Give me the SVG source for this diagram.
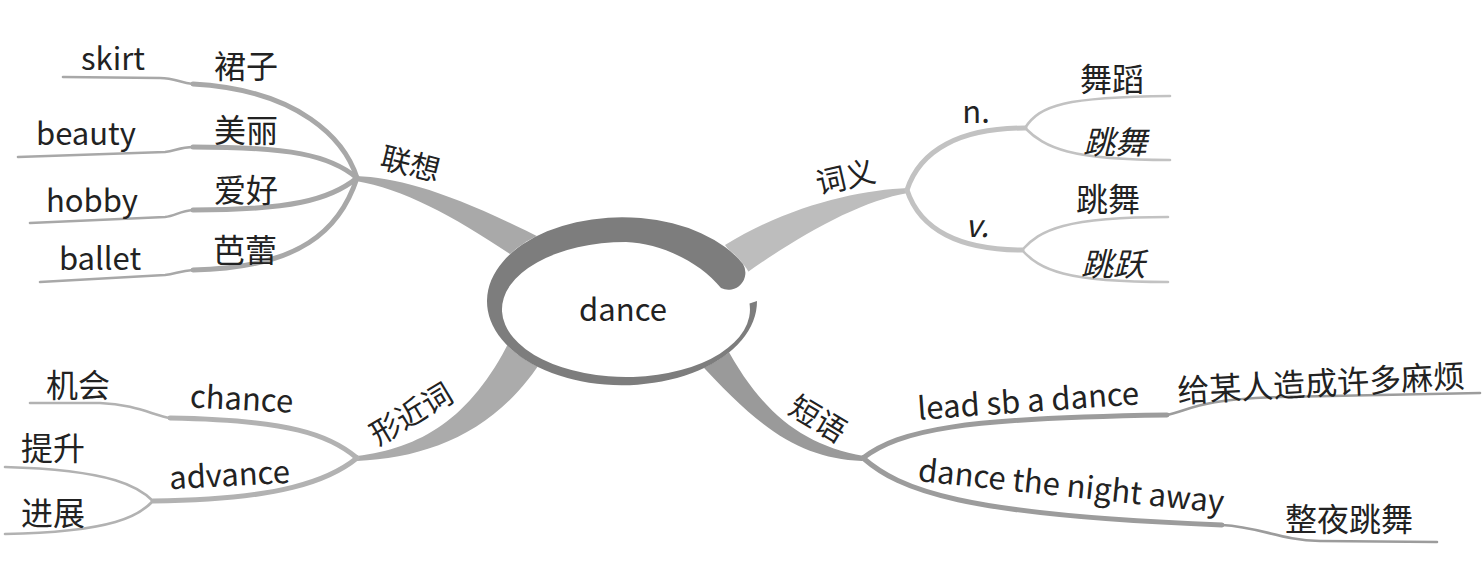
<svg xmlns="http://www.w3.org/2000/svg" width="1484" height="576" viewBox="0 0 1484 576">
<style>
text{font-family:"Noto Sans CJK SC","Noto Sans",sans-serif;fill:#222;}
.lat{font-size:31px;}
.cjk{font-size:32px;}
.mid{font-size:30px;}
.c{text-anchor:middle;dominant-baseline:central;}
.m{text-anchor:middle;}
.sub{fill:none;stroke-linecap:round;stroke-linejoin:round;}
.g1{stroke:#a8a8a8;}
.g2{stroke:#c2c2c2;}
.g3{stroke:#b2b2b2;}
.g4{stroke:#9c9c9c;}
.w5{stroke-width:5;}
.w3{stroke-width:2.6;}
</style>
<rect width="1484" height="576" fill="#fff"/>
<g id="connectors">
  <path d="M356,176 C400,178 450,192 545,240 L540,275 C470,225 410,190 356,181 Z" fill="#a9a9a9"/>
  <path d="M908,188 C860,190 790,205 725,245 L745,274 C800,235 860,201 908,193 Z" fill="#bdbdbd"/>
  <path d="M357,456 C420,448 470,420 510,340 L545,355 C500,430 430,458 357,461 Z" fill="#ababab"/>
  <path d="M725,345 C760,410 800,445 864,456 L862,461 C800,458 760,430 695,358 Z" fill="#9a9a9a"/>
  <path class="sub g1 w5" d="M357,178 C345,140 300,90 193,84"/>
  <path class="sub g1 w3" d="M193,84 C180,83 175,78 160,78 L63,77"/>
  <path class="sub g1 w5" d="M357,178 C330,155 290,147 193,147"/>
  <path class="sub g1 w3" d="M193,147 C180,147 175,151 165,152 L18,157"/>
  <path class="sub g1 w5" d="M357,178 C330,200 290,210 193,210"/>
  <path class="sub g1 w3" d="M193,210 C180,211 175,216 165,217 L30,223"/>
  <path class="sub g1 w5" d="M357,178 C340,230 300,268 193,270"/>
  <path class="sub g1 w3" d="M193,270 C180,271 175,274 165,275 L40,282"/>
  <path class="sub g2 w5" d="M907,190 C920,150 960,128 1025,128"/>
  <path class="sub g2 w3" d="M1025,128 C1040,105 1065,97 1170,96"/>
  <path class="sub g2 w3" d="M1025,128 C1045,148 1070,160 1170,160"/>
  <path class="sub g2 w5" d="M907,190 C920,230 960,250 1022,250"/>
  <path class="sub g2 w3" d="M1022,250 C1040,230 1065,217 1168,217"/>
  <path class="sub g2 w3" d="M1022,250 C1040,270 1065,282 1168,282"/>
  <path class="sub g3 w5" d="M357,458 C330,435 290,420 170,418"/>
  <path class="sub g3 w3" d="M170,418 C155,416 135,404 100,403 L30,403"/>
  <path class="sub g3 w5" d="M357,458 C330,480 280,500 153,501"/>
  <path class="sub g3 w3" d="M153,501 C140,488 115,470 5,467"/>
  <path class="sub g3 w3" d="M153,501 C140,515 115,532 5,534"/>
  <path class="sub g4 w5" d="M863,458 C900,430 960,418 1167,415"/>
  <path class="sub g4 w3" d="M1167,415 C1190,410 1200,399 1280,397 L1480,393"/>
  <path class="sub g4 w5" d="M863,458 C900,490 960,515 1222,525"/>
  <path class="sub g4 w3" d="M1222,525 C1260,527 1280,540 1320,541 L1437,542"/>
</g>
<g id="center">
  <ellipse cx="622" cy="301" rx="135" ry="84" fill="#fff"/>
  <path d="M743,264 A135,84 0 1 0 757,301 L749.5,303.6 A124,67.5 0 1 1 626,242 C660,243 700,262 721,288 A17,17 0 0 0 743,264 Z" fill="#7d7d7d"/>
  <text class="lat m" x="623" y="321">dance</text>
</g>
<g id="lianxiang">
  <text class="mid c" transform="translate(411,162) rotate(14)">联想</text>
  <text class="lat m" x="113" y="70">skirt</text>
  <text class="cjk c" x="246" y="64">裙子</text>
  <text class="lat m" x="86" y="145">beauty</text>
  <text class="cjk c" x="246" y="128">美丽</text>
  <text class="lat m" x="92" y="212">hobby</text>
  <text class="cjk c" x="246" y="188">爱好</text>
  <text class="lat m" x="100" y="270">ballet</text>
  <text class="cjk c" x="245" y="248">芭蕾</text>
</g>
<g id="ciyi">
  <text class="mid c" transform="translate(845,175) rotate(-13)">词义</text>
  <text class="lat m" x="976" y="123">n.</text>
  <text class="cjk c" x="1112" y="77">舞蹈</text>
  <text class="cjk c" x="1115" y="140" font-style="italic">跳舞</text>
  <text class="lat m" x="977" y="237" font-style="italic">v.</text>
  <text class="cjk c" x="1108" y="197">跳舞</text>
  <text class="cjk c" x="1113" y="262" font-style="italic">跳跃</text>
</g>
<g id="xingjinci">
  <text class="mid c" transform="translate(410,412) rotate(-31)">形近词</text>
  <text class="cjk c" x="78" y="383">机会</text>
  <text class="lat m" transform="translate(241,410) rotate(3)">chance</text>
  <text class="cjk c" x="53" y="446">提升</text>
  <text class="lat m" transform="translate(230,486) rotate(-3)">advance</text>
  <text class="cjk c" x="53" y="511">进展</text>
</g>
<g id="duanyu">
  <text class="mid c" transform="translate(819,417) rotate(31)">短语</text>
  <text class="lat m" transform="translate(1029,412) rotate(-4)">lead sb a dance</text>
  <text class="cjk c" transform="translate(1321,381) rotate(-3)">给某人造成许多麻烦</text>
  <text class="lat m" transform="translate(1070,497) rotate(6)">dance the night away</text>
  <text class="cjk c" x="1349" y="517">整夜跳舞</text>
</g>
</svg>
